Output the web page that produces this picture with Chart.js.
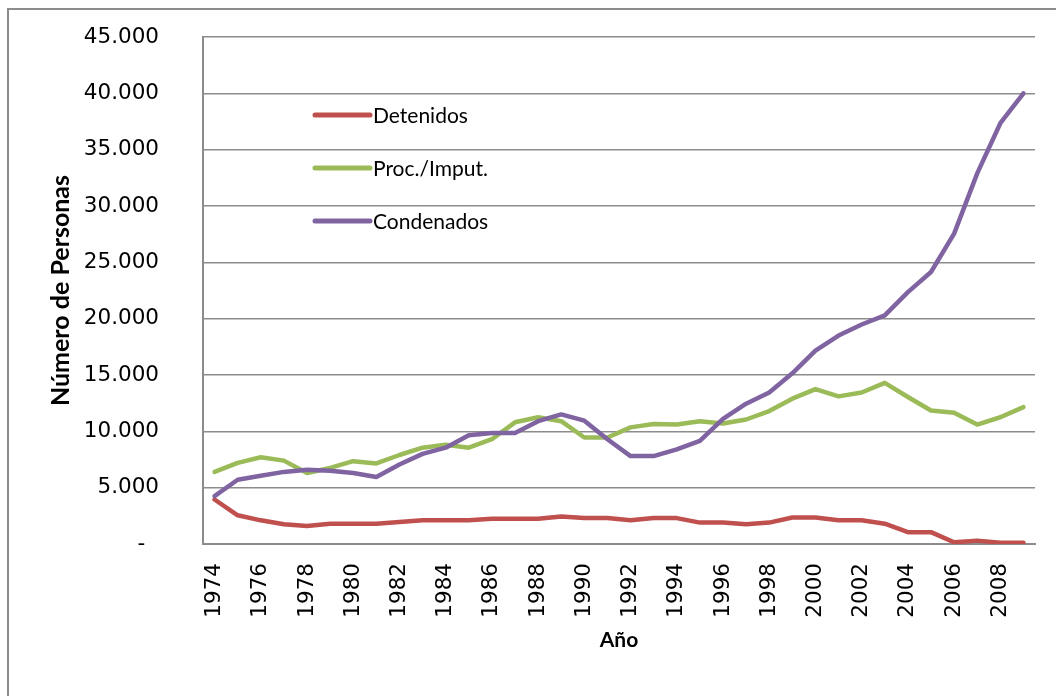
<!DOCTYPE html>
<html><head><meta charset="utf-8">
<script src="https://cdn.jsdelivr.net/npm/chart.js@4"></script>
<style>
html,body{margin:0;padding:0;background:#fff;}
#wrap{position:relative;width:1056px;height:696px;overflow:hidden;}
#frame{position:absolute;left:7px;top:8px;width:1200px;height:900px;border:2px solid #8c8c8c;}
canvas{position:absolute;left:0;top:0;}
</style></head><body>
<div id="wrap"><div id="frame"></div><canvas id="c" width="1056" height="696"></canvas></div>
<script>
const years = [1974,1975,1976,1977,1978,1979,1980,1981,1982,1983,1984,1985,1986,1987,1988,1989,1990,1991,1992,1993,1994,1995,1996,1997,1998,1999,2000,2001,2002,2003,2004,2005,2006,2007,2008,2009];
const detenidos = [3950,2550,2100,1750,1600,1800,1800,1800,1950,2100,2100,2100,2250,2250,2250,2450,2300,2300,2100,2300,2300,1900,1900,1750,1900,2350,2350,2100,2100,1800,1050,1050,150,300,120,120];
const procImput = [6400,7200,7700,7400,6300,6750,7350,7150,7900,8550,8800,8550,9300,10800,11250,10900,9450,9450,10350,10650,10600,10900,10700,11050,11800,12900,13750,13100,13450,14300,13050,11850,11650,10600,11250,12150];
const condenados = [4250,5700,6050,6400,6600,6500,6300,5950,7050,8000,8550,9650,9850,9850,10900,11500,10950,9300,7800,7800,8400,9150,11100,12450,13450,15150,17170,18500,19480,20290,22360,24140,27550,32900,37350,40000];
const seriesNames = ['Detenidos','Proc./Imput.','Condenados'];
const yTicks = {min:0, max:45000, step:5000};

const insideLegend = {
  id:'insideLegend',
  afterDatasetsDraw(chart){
    const ctx = chart.ctx, a = chart.chartArea;
    const x0 = a.left + 112, y0 = a.top + 78;
    chart.data.datasets.forEach((ds,i)=>{
      const y = y0 + i*53;
      ctx.save();
      ctx.strokeStyle = ds.borderColor; ctx.lineWidth = 5; ctx.lineCap = 'round';
      ctx.beginPath(); ctx.moveTo(x0,y); ctx.lineTo(x0+55,y); ctx.stroke();
      ctx.fillStyle = '#000'; ctx.font = '21px Lato'; ctx.textBaseline = 'middle'; ctx.textAlign = 'left';
      ctx.fillText(ds.label, x0+58, y+1);
      ctx.restore();
    });
  }
};

const common = {fill:false, tension:0, pointRadius:0, borderWidth:4.5, borderCapStyle:'round', borderJoinStyle:'round'};
new Chart(document.getElementById('c'), {
  type:'line',
  data:{
    labels: years.map(String),
    datasets:[
      Object.assign({label:seriesNames[0], data:detenidos, borderColor:'#C0504D', order:2}, common),
      Object.assign({label:seriesNames[1], data:procImput, borderColor:'#9BBB59', order:1}, common),
      Object.assign({label:seriesNames[2], data:condenados, borderColor:'#8064A2', order:0}, common)
    ]
  },
  options:{
    responsive:false, animation:false,
    layout:{padding:{left:46, top:37, right:21, bottom:43}},
    plugins:{legend:{display:false}, tooltip:{enabled:false}},
    scales:{
      x:{
        offset:true,
        grid:{display:false, drawTicks:false},
        border:{display:true, color:'#8c8c8c', width:2},
        ticks:{autoSkip:false, minRotation:90, maxRotation:90, padding:19, color:'#000',
          font:{family:'DejaVu Sans', size:21.5},
          callback:function(v,i){ return i%2===0 ? this.getLabelForValue(v) : ''; }},
        title:{display:true, text:'Año', color:'#000', font:{family:'Lato', size:21, weight:'bold'}, padding:{top:0,bottom:0}},
        afterFit(s){ s.height = 109; s.paddingLeft = 0; s.paddingRight = 0; }
      },
      y:{
        min:yTicks.min, max:yTicks.max,
        grid:{color:'#8c8c8c', lineWidth:1.5, drawTicks:false},
        border:{display:true, color:'#8c8c8c', width:2},
        ticks:{stepSize:yTicks.step, padding:44, color:'#000', font:{family:'DejaVu Sans', size:21.5},
          callback:(v)=> v===0 ? '-  ' : v.toLocaleString('de-DE', {minimumFractionDigits:0}).replace(/,/g,'.')},
        title:{display:true, text:'Número de Personas', color:'#000', font:{family:'Lato', size:25, weight:'bold'}, padding:{top:0,bottom:0}},
        afterFit(s){ s.width = 157; s.paddingTop = 0; s.paddingBottom = 0; }
      }
    }
  },
  plugins:[insideLegend]
});
</script>
</body></html>
